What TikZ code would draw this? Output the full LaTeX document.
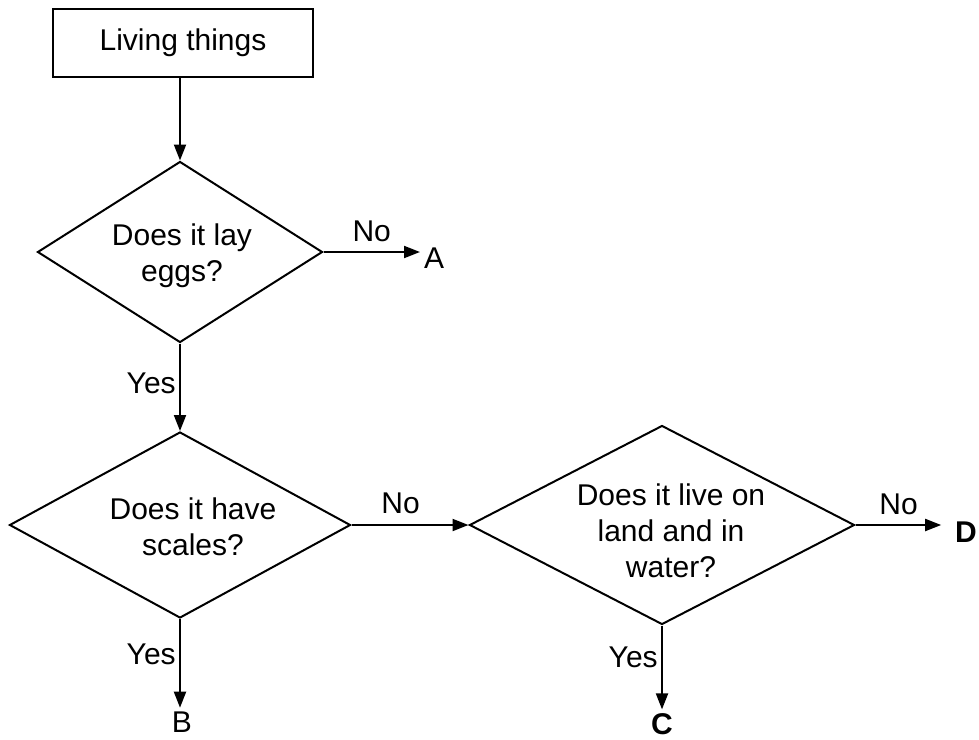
\documentclass[tikz,border=0pt]{standalone}
\usepackage{fontspec}
\setmainfont{Liberation Sans}
\usetikzlibrary{shapes.geometric, arrows.meta}
\tikzset{>={Triangle[length=16pt,width=12pt]}}

\begin{document}
\begin{tikzpicture}[x=1pt, y=-1pt, line width=2pt,
  font=\fontsize{30}{36}\selectfont,
  startbox/.style={draw, rectangle, minimum width=260pt, minimum height=68pt},
  decision/.style={draw, diamond, inner sep=0pt},
  question/.style={align=center, inner sep=0pt},
  leaf/.style={inner sep=3pt}]
\useasboundingbox (0,0) rectangle (979,739);

% start and questions
\node[startbox] (living) at (183,43) {Living things};
\node[decision, minimum width=285pt, minimum height=181pt] (eggs) at (180,252) {};
\node[question] (eggstext) at (182,256) {Does it lay\\eggs?};
\node[decision, minimum width=341pt, minimum height=186pt] (scales) at (180,525) {};
\node[question] (scalestext) at (193,527) {Does it have\\scales?};
\node[decision, minimum width=385pt, minimum height=199pt] (land) at (662,525) {};
\node[question] (landtext) at (671,531) {Does it live on\\land and in\\water?};

% end points
\node[leaf] (A) at (434,258) {A};
\node[leaf] (B) at (182,722) {B};
\node[leaf] (C) at (662,724) {\bfseries C};
\node[leaf] (D) at (966,532) {\bfseries D};

% connectors
\draw[->] (living.south -| eggs.north) -- (eggs.north);
\draw[->] (eggs.east) -- (eggs.east -| A.west) node [midway, above=6pt] {No};
\draw[->] (eggs.south) -- (scales.north) node [pos=0.45, left] {Yes};
\draw[->] (scales.east) -- (land.west) node [pos=0.42, above=7pt] {No};
\draw[->] (scales.south) -- (scales.south |- B.north) node [pos=0.4, left] {Yes};
\draw[->, shorten >=10pt] (land.east) -- (land.east -| D.west) node [pos=0.45, above=6pt] {No};
\draw[->] (land.south) -- (C.north) node [pos=0.38, left] {Yes};
\end{tikzpicture}
\end{document}
